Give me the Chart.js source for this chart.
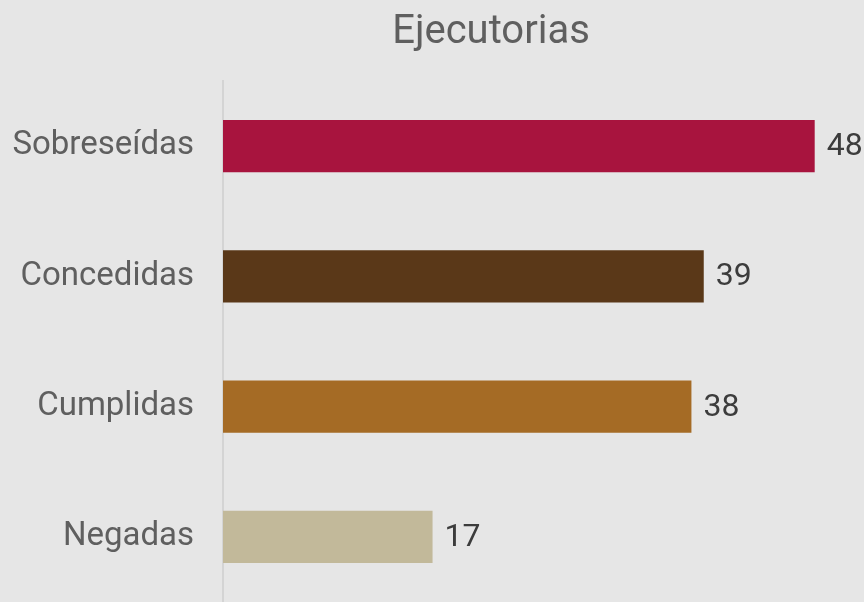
<!DOCTYPE html>
<html>
<head>
<meta charset="utf-8">
<script src="https://cdn.jsdelivr.net/npm/chart.js@4"></script>
<style>
  html, body { margin: 0; padding: 0; background: #e6e6e6; overflow: hidden; }
  canvas { display: block; }
</style>
</head>
<body>
<canvas id="chart" width="864" height="602"></canvas>
<script>
const categories = ['Sobreseídas', 'Concedidas', 'Cumplidas', 'Negadas'];
const values = [48, 39, 38, 17];
const barColours = ['#a8143e', '#5a3818', '#a56b25', '#c2b99a'];

const FONT = 'Roboto';

// bar-end value labels
const valueLabels = {
  id: 'valueLabels',
  afterDatasetsDraw(chart) {
    const ctx = chart.ctx;
    const meta = chart.getDatasetMeta(0);
    ctx.save();
    ctx.font = '32px ' + FONT;
    ctx.fillStyle = '#3c3c3c';
    ctx.textAlign = 'left';
    ctx.textBaseline = 'middle';
    meta.data.forEach((bar, i) => {
      ctx.fillText(String(values[i]), bar.x + 12, bar.y + 1);
    });
    ctx.restore();
  }
};

// title sits off-centre in the original
const titleText = {
  id: 'titleText',
  afterDraw(chart) {
    const ctx = chart.ctx;
    ctx.save();
    ctx.font = '40px ' + FONT;
    ctx.fillStyle = '#5f5f5f';
    ctx.textAlign = 'center';
    ctx.textBaseline = 'middle';
    ctx.fillText('Ejecutorias', 491, 33);
    ctx.restore();
  }
};

new Chart(document.getElementById('chart'), {
  type: 'bar',
  data: {
    labels: categories,
    datasets: [{
      data: values,
      backgroundColor: barColours,
      categoryPercentage: 1,
      barPercentage: 0.4
    }]
  },
  options: {
    indexAxis: 'y',
    responsive: false,
    animation: false,
    layout: { padding: { top: 81, right: 0, bottom: 0, left: 0 } },
    plugins: {
      legend: { display: false },
      tooltip: { enabled: false },
      title: { display: false }
    },
    scales: {
      x: { display: false, min: 0, max: 52 },
      y: {
        afterFit(scale) {
          scale.width = 223;
          // the tick padding would otherwise eat the bottom of the plot
          scale.paddingTop = 0;
          scale.paddingBottom = 0;
        },
        grid: { display: false, drawTicks: false },
        border: { display: true, color: '#d4d4d4', width: 2 },
        ticks: {
          padding: 29,
          color: '#5f5f5f',
          font: { family: FONT, size: 33 }
        }
      }
    }
  },
  plugins: [valueLabels, titleText]
});
</script>
</body>
</html>
